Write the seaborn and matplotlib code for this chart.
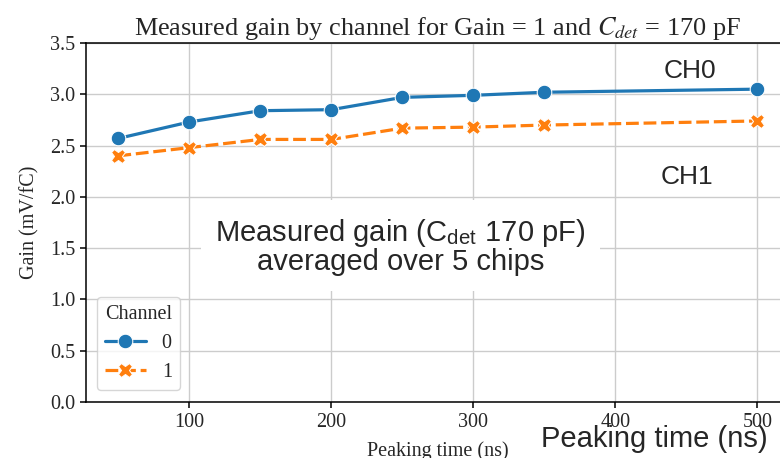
import pandas as pd
import seaborn as sns
import matplotlib.pyplot as plt

# values
peaking_time = [50, 100, 150, 200, 250, 300, 350, 500]
gain_ch0 = [2.57, 2.73, 2.84, 2.85, 2.97, 2.99, 3.02, 3.05]
gain_ch1 = [2.40, 2.48, 2.56, 2.56, 2.67, 2.68, 2.70, 2.74]
channels = ['0', '1']
x_ticks = [100, 200, 300, 400, 500]
y_ticks = [0.0, 0.5, 1.0, 1.5, 2.0, 2.5, 3.0, 3.5]

df = pd.DataFrame({
    'Peaking time (ns)': peaking_time + peaking_time,
    'Gain (mV/fC)': gain_ch0 + gain_ch1,
    'Channel': [channels[0]] * len(peaking_time) + [channels[1]] * len(peaking_time),
})

sns.set_style('ticks')
plt.rcParams['font.family'] = ['Liberation Serif', 'DejaVu Serif']
plt.rcParams['mathtext.fontset'] = 'stix'

fig = plt.figure(figsize=(7.8, 4.58), dpi=100)
ax = fig.add_axes([0.1108, 0.1223, 0.9013, 0.7838])

sns.lineplot(data=df, x='Peaking time (ns)', y='Gain (mV/fC)', hue='Channel', style='Channel',
             markers=True, palette=['#1f77b4', '#ff7f0e'], linewidth=2.3, markersize=10.5, ax=ax)

ax.set_xlim(27.5, 522.5)
ax.set_ylim(0, 3.5)
ax.set_xticks(x_ticks)
ax.set_yticks(y_ticks)
ax.set_yticklabels([f'{v:.1f}' for v in y_ticks])
ax.grid(True, color='#cccccc', linewidth=1)
ax.tick_params(labelsize=14.5, length=4.3, width=1.1, color='black')
for s in ax.spines.values():
    s.set_color('black')
    s.set_linewidth(1.1)

ax.set_title(r'Measured gain by channel for Gain = 1 and $C_{det}$ = 170 pF', fontsize=18.9)
ax.set_xlabel('Peaking time (ns)', fontsize=14.5, labelpad=7)
ax.set_ylabel('Gain (mV/fC)', fontsize=14.5, labelpad=8)

sns.move_legend(ax, 'lower left', bbox_to_anchor=(0.015, 0.033), borderaxespad=0,
                fontsize=14.5, title_fontsize=14.5)

# overlay labels
sans = ['Liberation Sans', 'DejaVu Sans']
fig.text(690 / 780, 1 - 71 / 458, 'CH0', family=sans, fontsize=19, ha='center', va='center')
fig.text(687 / 780, 1 - 177 / 458, 'CH1', family=sans, fontsize=19, ha='center', va='center')
fig.text(400.5 / 780, 1 - 246.5 / 458,
         'Measured gain (C$_\\mathregular{det}$ 170 pF)\naveraged over 5 chips',
         family=sans, fontsize=21, ha='center', va='center', multialignment='center',
         linespacing=0.95, bbox=dict(boxstyle='square,pad=0.5', fc='white', ec='none'))
fig.text(654 / 780, 1 - 446.7 / 458, 'Peaking time (ns)', family=sans, fontsize=21,
         ha='center', va='baseline')

fig.savefig('out.png', dpi=100)
